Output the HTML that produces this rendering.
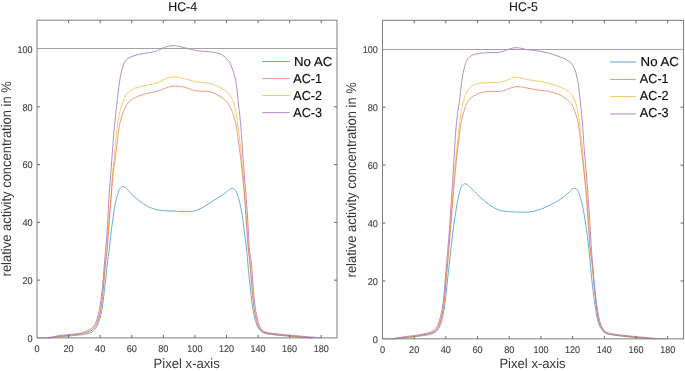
<!DOCTYPE html>
<html><head><meta charset="utf-8"><title>Profiles</title>
<style>
html,body{margin:0;padding:0;background:#fff;}
body{width:685px;height:371px;overflow:hidden;}
svg{display:block;}
text{font-family:"Liberation Sans",sans-serif;text-rendering:geometricPrecision;}
.tk{font-size:9.8px;fill:#3c3c3c;stroke:#3c3c3c;stroke-width:0.1px;}
.lb{font-size:13.4px;fill:#383838;}
.yl{font-size:13.9px;}
.ti{font-size:12.7px;fill:#151515;stroke:#151515;stroke-width:0.12px;}
.lg{font-size:13px;fill:#0c0c0c;stroke:#0c0c0c;stroke-width:0.16px;}
</style></head><body>
<svg width="685" height="371" viewBox="0 0 685 371">
<rect width="685" height="371" fill="#fff"/>
<line x1="37.00" y1="48.50" x2="337.00" y2="48.50" stroke="#a2a2a2" stroke-width="1"/>
<path d="M49.00 337.90 C50.83 337.72 56.77 337.11 60.00 336.80 C63.23 336.49 65.07 336.38 68.40 336.06 C71.73 335.74 77.35 335.19 80.00 334.90 C82.65 334.61 82.40 334.73 84.30 334.30 C86.20 333.87 89.38 333.48 91.40 332.30 C93.42 331.12 94.92 329.75 96.40 327.20 C97.88 324.65 99.27 320.70 100.30 317.00 C101.33 313.30 101.82 310.00 102.57 305.00 C103.32 300.00 104.03 293.67 104.80 287.00 C105.57 280.33 106.45 271.33 107.20 265.00 C107.95 258.67 108.70 254.00 109.30 249.00 C109.90 244.00 110.25 239.67 110.80 235.00 C111.35 230.33 111.89 226.00 112.60 221.00 C113.30 216.00 114.18 209.43 115.02 205.00 C115.86 200.57 116.75 197.17 117.62 194.40 C118.48 191.63 119.27 189.70 120.20 188.40 C121.13 187.10 122.17 186.60 123.20 186.60 C124.23 186.60 125.07 187.23 126.40 188.40 C127.73 189.57 129.10 191.57 131.20 193.60 C133.30 195.63 136.03 198.37 139.00 200.60 C141.97 202.83 145.67 205.40 149.00 207.00 C152.33 208.60 155.33 209.53 159.00 210.20 C162.67 210.87 166.67 210.77 171.00 211.00 C175.33 211.23 181.42 211.57 185.00 211.60 C188.58 211.63 190.20 211.57 192.50 211.20 C194.80 210.83 196.70 210.28 198.80 209.40 C200.90 208.52 203.00 207.12 205.10 205.90 C207.20 204.68 209.32 203.40 211.40 202.10 C213.48 200.80 215.52 199.45 217.60 198.10 C219.68 196.75 222.12 195.28 223.90 194.00 C225.68 192.72 227.15 191.25 228.30 190.40 C229.45 189.55 230.10 189.22 230.80 188.90 C231.50 188.58 231.92 188.47 232.50 188.50 C233.08 188.53 233.73 188.68 234.30 189.10 C234.87 189.52 235.36 190.02 235.90 191.00 C236.44 191.98 236.97 193.20 237.57 195.00 C238.17 196.80 238.84 198.98 239.52 201.80 C240.20 204.62 240.99 208.22 241.63 211.90 C242.28 215.58 242.78 219.38 243.38 223.90 C243.98 228.42 244.73 234.82 245.26 239.00 C245.78 243.18 246.07 244.67 246.53 249.00 C246.99 253.33 247.44 259.00 248.01 265.00 C248.59 271.00 249.28 278.33 250.00 285.00 C250.72 291.67 251.47 299.33 252.31 305.00 C253.14 310.67 253.98 315.17 255.00 319.00 C256.02 322.83 256.90 325.67 258.40 328.00 C259.90 330.33 261.07 331.83 264.00 333.00 C266.93 334.17 271.67 334.47 276.00 335.00 C280.33 335.53 285.33 335.80 290.00 336.20 C294.67 336.60 300.50 337.12 304.00 337.40 C307.50 337.68 309.67 337.78 311.00 337.86 C312.33 337.94 311.83 337.89 312.00 337.90" fill="none" stroke="#5ea8df" stroke-width="0.95" stroke-linejoin="round"/>
<path d="M48.50 337.90 C50.42 337.63 56.68 336.70 60.00 336.30 C63.32 335.90 65.07 335.87 68.40 335.50 C71.73 335.13 77.40 334.48 80.00 334.10 C82.60 333.72 82.17 333.75 84.00 333.20 C85.83 332.65 89.07 331.97 91.00 330.80 C92.93 329.63 94.23 328.50 95.60 326.20 C96.97 323.90 98.21 320.53 99.20 317.00 C100.19 313.47 100.83 310.00 101.55 305.00 C102.27 300.00 102.88 293.67 103.54 287.00 C104.20 280.33 104.87 271.33 105.50 265.00 C106.13 258.67 106.83 254.00 107.30 249.00 C107.77 244.00 107.88 240.67 108.30 235.00 C108.72 229.33 109.29 221.67 109.80 215.00 C110.31 208.33 110.90 201.00 111.38 195.00 C111.85 189.00 112.29 183.00 112.65 179.00 C113.01 175.00 113.09 174.67 113.55 171.00 C114.01 167.33 114.76 162.00 115.40 157.00 C116.03 152.00 116.74 146.00 117.37 141.00 C118.01 136.00 118.50 131.00 119.20 127.00 C119.90 123.00 120.75 119.83 121.55 117.00 C122.35 114.17 123.09 112.17 124.00 110.00 C124.91 107.83 125.67 105.77 127.00 104.00 C128.33 102.23 130.00 100.73 132.00 99.40 C134.00 98.07 136.50 97.00 139.00 96.00 C141.50 95.00 144.33 94.10 147.00 93.40 C149.67 92.70 152.67 92.37 155.00 91.80 C157.33 91.23 159.00 90.70 161.00 90.00 C163.00 89.30 165.17 88.23 167.00 87.60 C168.83 86.97 170.33 86.47 172.00 86.20 C173.67 85.93 175.17 85.90 177.00 86.00 C178.83 86.10 181.00 86.37 183.00 86.80 C185.00 87.23 186.83 87.93 189.00 88.60 C191.17 89.27 193.67 90.37 196.00 90.80 C198.33 91.23 200.83 91.07 203.00 91.20 C205.17 91.33 207.00 91.20 209.00 91.60 C211.00 92.00 213.00 92.70 215.00 93.60 C217.00 94.50 219.00 95.60 221.00 97.00 C223.00 98.40 225.70 100.67 227.00 102.00 C228.30 103.33 228.03 103.67 228.80 105.00 C229.57 106.33 230.78 108.17 231.60 110.00 C232.42 111.83 232.99 113.50 233.74 116.00 C234.49 118.50 235.38 121.17 236.11 125.00 C236.84 128.83 237.47 134.33 238.12 139.00 C238.76 143.67 239.42 148.33 240.00 153.00 C240.58 157.67 241.13 162.67 241.60 167.00 C242.07 171.33 242.34 174.33 242.81 179.00 C243.27 183.67 243.90 189.00 244.40 195.00 C244.90 201.00 245.33 208.33 245.80 215.00 C246.27 221.67 246.80 229.33 247.20 235.00 C247.60 240.67 247.73 244.00 248.20 249.00 C248.67 254.00 249.43 259.00 250.00 265.00 C250.57 271.00 251.01 278.33 251.60 285.00 C252.19 291.67 252.82 299.53 253.52 305.00 C254.22 310.47 254.89 314.03 255.80 317.80 C256.71 321.57 257.60 325.13 259.00 327.60 C260.40 330.07 261.37 331.43 264.20 332.60 C267.03 333.77 271.70 334.03 276.00 334.60 C280.30 335.17 285.33 335.57 290.00 336.00 C294.67 336.43 300.40 336.90 304.00 337.20 C307.60 337.50 310.10 337.68 311.60 337.80 C313.10 337.92 312.77 337.88 313.00 337.90" fill="none" stroke="#ee9876" stroke-width="0.95" stroke-linejoin="round"/>
<path d="M48.00 337.90 C50.00 337.60 56.60 336.53 60.00 336.10 C63.40 335.67 65.07 335.67 68.40 335.30 C71.73 334.93 77.40 334.28 80.00 333.90 C82.60 333.52 82.17 333.58 84.00 333.00 C85.83 332.42 89.10 331.60 91.00 330.40 C92.90 329.20 94.10 328.03 95.40 325.80 C96.70 323.57 97.84 320.47 98.80 317.00 C99.76 313.53 100.43 310.00 101.14 305.00 C101.86 300.00 102.46 293.67 103.10 287.00 C103.74 280.33 104.38 271.33 105.00 265.00 C105.62 258.67 106.33 254.00 106.80 249.00 C107.27 244.00 107.38 240.67 107.80 235.00 C108.22 229.33 108.77 221.67 109.30 215.00 C109.83 208.33 110.53 201.00 110.99 195.00 C111.44 189.00 111.71 183.33 112.04 179.00 C112.37 174.67 112.58 173.00 112.97 169.00 C113.37 165.00 113.90 160.00 114.40 155.00 C114.90 150.00 115.48 144.00 115.99 139.00 C116.51 134.00 116.88 129.33 117.49 125.00 C118.09 120.67 119.10 115.67 119.63 113.00 C120.15 110.33 120.03 111.00 120.65 109.00 C121.26 107.00 122.41 103.33 123.30 101.00 C124.20 98.67 124.72 96.83 126.00 95.00 C127.28 93.17 129.17 91.27 131.00 90.00 C132.83 88.73 134.67 88.13 137.00 87.40 C139.33 86.67 142.33 86.17 145.00 85.60 C147.67 85.03 150.67 84.60 153.00 84.00 C155.33 83.40 157.00 82.83 159.00 82.00 C161.00 81.17 163.17 79.77 165.00 79.00 C166.83 78.23 168.33 77.70 170.00 77.40 C171.67 77.10 173.17 77.13 175.00 77.20 C176.83 77.27 178.67 77.33 181.00 77.80 C183.33 78.27 186.33 79.30 189.00 80.00 C191.67 80.70 194.33 81.57 197.00 82.00 C199.67 82.43 202.33 82.20 205.00 82.60 C207.67 83.00 210.33 83.50 213.00 84.40 C215.67 85.30 218.67 86.73 221.00 88.00 C223.33 89.27 225.33 90.50 227.00 92.00 C228.67 93.50 229.83 95.00 231.00 97.00 C232.17 99.00 233.46 102.67 234.00 104.00 C234.54 105.33 233.87 103.50 234.24 105.00 C234.61 106.50 235.67 110.00 236.22 113.00 C236.77 116.00 237.01 119.00 237.53 123.00 C238.04 127.00 238.72 132.33 239.29 137.00 C239.87 141.67 240.48 146.00 241.00 151.00 C241.52 156.00 241.97 162.33 242.40 167.00 C242.83 171.67 243.20 174.33 243.60 179.00 C244.00 183.67 244.37 189.00 244.80 195.00 C245.23 201.00 245.73 208.33 246.20 215.00 C246.67 221.67 247.20 229.33 247.60 235.00 C248.00 240.67 248.13 244.00 248.60 249.00 C249.07 254.00 249.83 259.00 250.40 265.00 C250.97 271.00 251.41 278.33 252.00 285.00 C252.59 291.67 253.22 299.60 253.92 305.00 C254.62 310.40 255.29 313.67 256.20 317.40 C257.11 321.13 258.03 324.90 259.40 327.40 C260.77 329.90 261.63 331.23 264.40 332.40 C267.17 333.57 271.73 333.83 276.00 334.40 C280.27 334.97 285.33 335.37 290.00 335.80 C294.67 336.23 300.33 336.68 304.00 337.00 C307.67 337.32 310.33 337.57 312.00 337.72 C313.67 337.87 313.67 337.87 314.00 337.90" fill="none" stroke="#f6c962" stroke-width="0.95" stroke-linejoin="round" style="mix-blend-mode:multiply"/>
<path d="M37.00 337.90 C38.67 337.90 43.17 338.32 47.00 337.90 C50.83 337.48 56.43 335.94 60.00 335.40 C63.57 334.86 65.07 334.99 68.40 334.64 C71.73 334.29 77.45 333.72 80.00 333.30 C82.55 332.88 81.93 332.80 83.70 332.10 C85.47 331.40 88.78 330.32 90.60 329.10 C92.42 327.88 93.42 326.82 94.60 324.80 C95.78 322.78 96.78 320.30 97.70 317.00 C98.62 313.70 99.34 310.00 100.14 305.00 C100.94 300.00 101.81 293.67 102.50 287.00 C103.19 280.33 103.57 273.67 104.30 265.00 C105.03 256.33 106.28 243.33 106.90 235.00 C107.52 226.67 107.63 221.67 108.00 215.00 C108.37 208.33 108.70 201.00 109.10 195.00 C109.50 189.00 110.02 184.00 110.40 179.00 C110.78 174.00 111.03 170.00 111.40 165.00 C111.77 160.00 112.17 154.67 112.60 149.00 C113.03 143.33 113.53 136.33 114.00 131.00 C114.47 125.67 115.03 120.67 115.41 117.00 C115.79 113.33 115.87 112.67 116.29 109.00 C116.70 105.33 117.39 99.17 117.88 95.00 C118.37 90.83 118.77 87.22 119.23 84.00 C119.68 80.78 120.10 78.27 120.60 75.70 C121.11 73.13 121.63 70.78 122.25 68.60 C122.87 66.42 123.43 64.23 124.30 62.60 C125.17 60.97 126.03 59.90 127.50 58.80 C128.97 57.70 130.90 56.80 133.10 56.00 C135.30 55.20 138.18 54.53 140.70 54.00 C143.22 53.47 145.90 53.22 148.20 52.80 C150.50 52.38 152.82 51.92 154.50 51.50 C156.18 51.08 157.05 50.80 158.30 50.30 C159.55 49.80 160.75 49.07 162.00 48.50 C163.25 47.93 164.53 47.33 165.80 46.90 C167.07 46.47 168.45 46.12 169.60 45.90 C170.75 45.68 171.55 45.60 172.70 45.60 C173.85 45.60 175.07 45.68 176.50 45.90 C177.93 46.12 179.45 46.47 181.30 46.90 C183.15 47.33 185.50 47.98 187.60 48.50 C189.70 49.02 192.02 49.60 193.90 50.00 C195.78 50.40 197.02 50.67 198.90 50.90 C200.78 51.13 203.10 51.22 205.20 51.40 C207.30 51.58 209.62 51.75 211.50 52.00 C213.38 52.25 215.03 52.58 216.50 52.90 C217.97 53.22 219.05 53.33 220.30 53.90 C221.55 54.47 222.85 55.42 224.00 56.30 C225.15 57.18 226.18 58.10 227.20 59.20 C228.22 60.30 229.29 61.45 230.10 62.90 C230.91 64.35 231.43 66.18 232.05 67.90 C232.67 69.62 233.29 71.38 233.83 73.20 C234.36 75.02 234.86 77.00 235.26 78.80 C235.66 80.60 235.84 81.47 236.21 84.00 C236.57 86.53 237.05 90.50 237.44 94.00 C237.83 97.50 238.15 101.17 238.57 105.00 C238.99 108.83 239.50 112.67 239.94 117.00 C240.38 121.33 240.80 125.67 241.21 131.00 C241.62 136.33 242.00 143.33 242.40 149.00 C242.80 154.67 243.23 160.00 243.60 165.00 C243.97 170.00 244.20 174.00 244.60 179.00 C245.00 184.00 245.53 189.00 246.00 195.00 C246.47 201.00 246.97 208.33 247.40 215.00 C247.83 221.67 248.27 229.33 248.60 235.00 C248.93 240.67 248.90 244.00 249.40 249.00 C249.90 254.00 251.00 259.00 251.60 265.00 C252.20 271.00 252.45 278.33 253.00 285.00 C253.55 291.67 254.25 299.67 254.92 305.00 C255.59 310.33 256.15 313.33 257.00 317.00 C257.85 320.67 258.67 324.52 260.00 327.00 C261.33 329.48 262.33 330.77 265.00 331.90 C267.67 333.03 271.83 333.25 276.00 333.80 C280.17 334.35 285.33 334.77 290.00 335.20 C294.67 335.63 299.33 336.00 304.00 336.40 C308.67 336.80 315.13 337.35 318.00 337.60 C320.87 337.85 320.68 337.85 321.21 337.90" fill="none" stroke="#b486c6" stroke-width="0.95" stroke-linejoin="round"/>
<rect x="37.00" y="20.20" width="300.00" height="317.70" fill="none" stroke="#7e7e7e" stroke-width="1"/>
<path d="M68.58 337.90v-3.0M68.58 20.20v3.0M100.16 337.90v-3.0M100.16 20.20v3.0M131.74 337.90v-3.0M131.74 20.20v3.0M163.32 337.90v-3.0M163.32 20.20v3.0M194.89 337.90v-3.0M194.89 20.20v3.0M226.47 337.90v-3.0M226.47 20.20v3.0M258.05 337.90v-3.0M258.05 20.20v3.0M289.63 337.90v-3.0M289.63 20.20v3.0M321.21 337.90v-3.0M321.21 20.20v3.0M37.00 280.14h3.0M337.00 280.14h-3.0M37.00 222.37h3.0M337.00 222.37h-3.0M37.00 164.61h3.0M337.00 164.61h-3.0M37.00 106.85h3.0M337.00 106.85h-3.0" stroke="#686868" stroke-width="1" fill="none"/>
<text class="tk" x="37.00" y="351.60" text-anchor="middle" textLength="5.10" lengthAdjust="spacingAndGlyphs">0</text>
<text class="tk" x="68.58" y="351.60" text-anchor="middle" textLength="10.20" lengthAdjust="spacingAndGlyphs">20</text>
<text class="tk" x="100.16" y="351.60" text-anchor="middle" textLength="10.20" lengthAdjust="spacingAndGlyphs">40</text>
<text class="tk" x="131.74" y="351.60" text-anchor="middle" textLength="10.20" lengthAdjust="spacingAndGlyphs">60</text>
<text class="tk" x="163.32" y="351.60" text-anchor="middle" textLength="10.20" lengthAdjust="spacingAndGlyphs">80</text>
<text class="tk" x="194.89" y="351.60" text-anchor="middle" textLength="15.05" lengthAdjust="spacingAndGlyphs">100</text>
<text class="tk" x="226.47" y="351.60" text-anchor="middle" textLength="15.05" lengthAdjust="spacingAndGlyphs">120</text>
<text class="tk" x="258.05" y="351.60" text-anchor="middle" textLength="15.05" lengthAdjust="spacingAndGlyphs">140</text>
<text class="tk" x="289.63" y="351.60" text-anchor="middle" textLength="15.05" lengthAdjust="spacingAndGlyphs">160</text>
<text class="tk" x="321.21" y="351.60" text-anchor="middle" textLength="15.05" lengthAdjust="spacingAndGlyphs">180</text>
<text class="tk" x="32.60" y="341.55" text-anchor="end" textLength="5.10" lengthAdjust="spacingAndGlyphs">0</text>
<text class="tk" x="32.60" y="283.79" text-anchor="end" textLength="10.20" lengthAdjust="spacingAndGlyphs">20</text>
<text class="tk" x="32.60" y="226.02" text-anchor="end" textLength="10.20" lengthAdjust="spacingAndGlyphs">40</text>
<text class="tk" x="32.60" y="168.26" text-anchor="end" textLength="10.20" lengthAdjust="spacingAndGlyphs">60</text>
<text class="tk" x="32.60" y="110.50" text-anchor="end" textLength="10.20" lengthAdjust="spacingAndGlyphs">80</text>
<text class="tk" x="32.60" y="52.73" text-anchor="end" textLength="15.05" lengthAdjust="spacingAndGlyphs">100</text>
<text class="ti" x="182.70" y="10.50" text-anchor="middle" textLength="28.8" lengthAdjust="spacingAndGlyphs">HC-4</text>
<text class="lb" x="186.70" y="367.50" text-anchor="middle" textLength="66.2" lengthAdjust="spacingAndGlyphs">Pixel x-axis</text>
<text class="lb yl" transform="translate(11.20 276.40) rotate(-90)" textLength="195.2" lengthAdjust="spacingAndGlyphs">relative activity concentration in %</text>
<line x1="262.20" y1="61.50" x2="289.80" y2="61.50" stroke="#68abe0" stroke-width="1.1"/>
<text class="lg" x="294.00" y="66.10" textLength="38.3" lengthAdjust="spacingAndGlyphs">No AC</text>
<line x1="262.20" y1="78.50" x2="289.80" y2="78.50" stroke="#efa084" stroke-width="1.1"/>
<text class="lg" x="293.25" y="83.03" textLength="28.8" lengthAdjust="spacingAndGlyphs">AC-1</text>
<line x1="262.20" y1="95.50" x2="289.80" y2="95.50" stroke="#f7cb66" stroke-width="1.1"/>
<text class="lg" x="293.25" y="99.96" textLength="28.8" lengthAdjust="spacingAndGlyphs">AC-2</text>
<line x1="262.20" y1="112.60" x2="289.80" y2="112.60" stroke="#bf92d2" stroke-width="1.1"/>
<text class="lg" x="293.25" y="116.89" textLength="28.8" lengthAdjust="spacingAndGlyphs">AC-3</text>
<line x1="382.50" y1="49.50" x2="683.50" y2="49.50" stroke="#a2a2a2" stroke-width="1"/>
<path d="M394.00 338.85 C395.00 338.74 396.77 338.54 400.00 338.20 C403.23 337.86 409.40 337.27 413.40 336.80 C417.40 336.33 420.90 335.90 424.00 335.40 C427.10 334.90 429.73 334.70 432.00 333.80 C434.27 332.90 436.10 331.80 437.60 330.00 C439.10 328.20 439.97 326.17 441.00 323.00 C442.03 319.83 442.95 315.67 443.78 311.00 C444.61 306.33 445.36 300.33 446.00 295.00 C446.64 289.67 447.07 284.00 447.60 279.00 C448.13 274.00 448.65 270.00 449.20 265.00 C449.75 260.00 450.35 254.00 450.90 249.00 C451.45 244.00 451.92 239.67 452.50 235.00 C453.08 230.33 453.67 226.00 454.40 221.00 C455.13 216.00 456.15 209.33 456.88 205.00 C457.62 200.67 458.24 197.63 458.82 195.00 C459.39 192.37 459.85 190.72 460.31 189.20 C460.78 187.68 461.09 186.72 461.60 185.90 C462.11 185.08 462.80 184.64 463.40 184.30 C464.00 183.96 464.57 183.83 465.20 183.84 C465.83 183.85 466.40 183.80 467.20 184.36 C468.00 184.92 469.03 186.24 470.00 187.20 C470.97 188.16 471.17 188.30 473.00 190.10 C474.83 191.90 478.00 195.35 481.00 198.00 C484.00 200.65 487.67 203.90 491.00 206.00 C494.33 208.10 497.67 209.63 501.00 210.60 C504.33 211.57 507.67 211.53 511.00 211.80 C514.33 212.07 518.67 212.13 521.00 212.20 C523.33 212.27 523.28 212.32 525.00 212.24 C526.72 212.16 529.20 212.02 531.30 211.70 C533.40 211.38 535.52 210.92 537.60 210.30 C539.68 209.68 541.72 208.87 543.80 208.00 C545.88 207.13 548.00 206.15 550.10 205.10 C552.20 204.05 554.30 202.97 556.40 201.70 C558.50 200.43 560.82 198.90 562.70 197.50 C564.58 196.10 566.38 194.43 567.70 193.30 C569.02 192.17 569.78 191.40 570.60 190.70 C571.42 190.00 572.03 189.48 572.60 189.10 C573.17 188.72 573.57 188.53 574.00 188.40 C574.43 188.27 574.80 188.23 575.20 188.30 C575.60 188.37 576.03 188.52 576.40 188.80 C576.77 189.08 577.08 189.52 577.40 190.00 C577.72 190.48 577.99 191.00 578.30 191.70 C578.61 192.40 578.86 193.02 579.27 194.20 C579.69 195.38 580.25 196.88 580.79 198.80 C581.33 200.72 581.97 203.10 582.53 205.70 C583.09 208.30 583.63 211.35 584.16 214.40 C584.68 217.45 585.12 220.40 585.65 224.00 C586.18 227.60 586.79 231.83 587.33 236.00 C587.87 240.17 588.38 244.17 588.89 249.00 C589.40 253.83 589.82 259.00 590.40 265.00 C590.98 271.00 591.63 278.33 592.40 285.00 C593.17 291.67 594.13 299.17 595.00 305.00 C595.86 310.83 596.60 316.07 597.60 320.00 C598.60 323.93 599.60 326.37 601.00 328.60 C602.40 330.83 603.50 332.27 606.00 333.40 C608.50 334.53 612.33 334.83 616.00 335.40 C619.67 335.97 623.67 336.37 628.00 336.80 C632.33 337.23 638.50 337.71 642.00 338.00 C645.50 338.29 647.00 338.38 649.00 338.52 C651.00 338.66 653.17 338.80 654.00 338.85" fill="none" stroke="#5ea8df" stroke-width="0.95" stroke-linejoin="round"/>
<path d="M393.50 338.85 C394.58 338.71 396.68 338.39 400.00 338.00 C403.32 337.61 409.40 337.03 413.40 336.50 C417.40 335.97 420.90 335.38 424.00 334.80 C427.10 334.22 429.77 334.00 432.00 333.00 C434.23 332.00 435.99 330.70 437.40 328.80 C438.81 326.90 439.51 324.70 440.47 321.60 C441.43 318.50 442.41 314.63 443.15 310.20 C443.89 305.77 444.42 299.87 444.91 295.00 C445.40 290.13 445.65 286.00 446.10 281.00 C446.55 276.00 446.93 272.67 447.60 265.00 C448.27 257.33 449.42 243.33 450.10 235.00 C450.78 226.67 451.17 221.67 451.70 215.00 C452.23 208.33 452.81 201.00 453.29 195.00 C453.78 189.00 454.30 182.67 454.62 179.00 C454.93 175.33 454.85 176.33 455.18 173.00 C455.51 169.67 456.07 164.00 456.60 159.00 C457.14 154.00 457.78 148.00 458.37 143.00 C458.97 138.00 459.56 133.00 460.15 129.00 C460.73 125.00 461.23 122.00 461.87 119.00 C462.51 116.00 463.13 113.67 463.98 111.00 C464.84 108.33 465.83 105.17 467.00 103.00 C468.17 100.83 469.50 99.40 471.00 98.00 C472.50 96.60 474.00 95.57 476.00 94.60 C478.00 93.63 480.50 92.73 483.00 92.20 C485.50 91.67 488.33 91.53 491.00 91.40 C493.67 91.27 496.83 91.53 499.00 91.40 C501.17 91.27 502.33 91.07 504.00 90.60 C505.67 90.13 507.33 89.20 509.00 88.60 C510.67 88.00 512.50 87.33 514.00 87.00 C515.50 86.67 516.50 86.57 518.00 86.60 C519.50 86.63 521.17 86.90 523.00 87.20 C524.83 87.50 526.67 87.97 529.00 88.40 C531.33 88.83 534.33 89.40 537.00 89.80 C539.67 90.20 542.33 90.37 545.00 90.80 C547.67 91.23 550.50 91.70 553.00 92.40 C555.50 93.10 557.83 93.97 560.00 95.00 C562.17 96.03 564.17 97.20 566.00 98.60 C567.83 100.00 570.00 102.33 571.00 103.40 C572.00 104.47 571.43 103.90 572.00 105.00 C572.57 106.10 573.67 108.17 574.40 110.00 C575.13 111.83 575.66 113.50 576.35 116.00 C577.05 118.50 577.91 121.17 578.56 125.00 C579.21 128.83 579.72 134.33 580.26 139.00 C580.80 143.67 581.28 148.33 581.81 153.00 C582.33 157.67 582.93 162.67 583.40 167.00 C583.87 171.33 584.14 174.33 584.61 179.00 C585.07 183.67 585.70 189.00 586.20 195.00 C586.70 201.00 587.13 208.33 587.60 215.00 C588.07 221.67 588.60 229.33 589.00 235.00 C589.40 240.67 589.47 244.00 590.00 249.00 C590.53 254.00 591.53 259.00 592.20 265.00 C592.87 271.00 593.34 278.33 594.00 285.00 C594.66 291.67 595.44 299.23 596.18 305.00 C596.91 310.77 597.46 315.70 598.40 319.60 C599.34 323.50 600.47 326.17 601.80 328.40 C603.13 330.63 604.03 331.88 606.40 333.00 C608.77 334.12 612.40 334.52 616.00 335.10 C619.60 335.68 623.67 336.05 628.00 336.50 C632.33 336.95 638.33 337.47 642.00 337.80 C645.67 338.13 647.67 338.29 650.00 338.46 C652.33 338.64 655.00 338.79 656.00 338.85" fill="none" stroke="#ee9876" stroke-width="0.95" stroke-linejoin="round"/>
<path d="M393.00 338.85 C394.17 338.68 396.60 338.23 400.00 337.80 C403.40 337.38 409.40 336.83 413.40 336.30 C417.40 335.77 420.90 335.22 424.00 334.60 C427.10 333.98 429.80 333.67 432.00 332.60 C434.20 331.53 435.83 330.13 437.20 328.20 C438.57 326.27 439.26 324.10 440.19 321.00 C441.12 317.90 442.06 313.93 442.78 309.60 C443.50 305.27 444.01 299.77 444.51 295.00 C445.01 290.23 445.35 286.00 445.80 281.00 C446.25 276.00 446.57 272.67 447.20 265.00 C447.83 257.33 448.93 243.33 449.60 235.00 C450.27 226.67 450.67 221.67 451.20 215.00 C451.73 208.33 452.35 201.00 452.79 195.00 C453.23 189.00 453.51 183.33 453.84 179.00 C454.17 174.67 454.38 173.00 454.77 169.00 C455.17 165.00 455.70 160.00 456.20 155.00 C456.70 150.00 457.27 144.00 457.80 139.00 C458.32 134.00 458.81 129.33 459.35 125.00 C459.89 120.67 460.65 115.67 461.05 113.00 C461.44 110.33 461.22 111.33 461.72 109.00 C462.23 106.67 463.25 101.83 464.07 99.00 C464.88 96.17 465.61 93.93 466.60 92.00 C467.59 90.07 468.60 88.67 470.00 87.40 C471.40 86.13 473.00 85.13 475.00 84.40 C477.00 83.67 479.33 83.30 482.00 83.00 C484.67 82.70 488.17 82.70 491.00 82.60 C493.83 82.50 496.83 82.60 499.00 82.40 C501.17 82.20 502.33 81.90 504.00 81.40 C505.67 80.90 507.33 80.00 509.00 79.40 C510.67 78.80 512.60 78.13 514.00 77.80 C515.40 77.47 516.07 77.33 517.40 77.40 C518.73 77.47 520.07 77.80 522.00 78.20 C523.93 78.60 526.50 79.33 529.00 79.80 C531.50 80.27 534.33 80.57 537.00 81.00 C539.67 81.43 542.33 81.83 545.00 82.40 C547.67 82.97 550.33 83.57 553.00 84.40 C555.67 85.23 558.67 86.37 561.00 87.40 C563.33 88.43 565.17 89.33 567.00 90.60 C568.83 91.87 570.67 93.27 572.00 95.00 C573.33 96.73 574.29 99.33 575.00 101.00 C575.71 102.67 575.73 103.00 576.26 105.00 C576.78 107.00 577.58 110.00 578.15 113.00 C578.71 116.00 579.13 119.00 579.65 123.00 C580.16 127.00 580.73 132.33 581.22 137.00 C581.72 141.67 582.14 146.00 582.60 151.00 C583.06 156.00 583.57 162.33 584.00 167.00 C584.43 171.67 584.73 174.33 585.20 179.00 C585.67 183.67 586.30 189.00 586.80 195.00 C587.30 201.00 587.73 208.33 588.20 215.00 C588.67 221.67 589.23 229.33 589.60 235.00 C589.97 240.67 589.93 244.00 590.40 249.00 C590.87 254.00 591.77 259.00 592.40 265.00 C593.03 271.00 593.54 278.33 594.20 285.00 C594.86 291.67 595.64 299.27 596.37 305.00 C597.10 310.73 597.66 315.53 598.60 319.40 C599.54 323.27 600.67 325.97 602.00 328.20 C603.33 330.43 604.27 331.68 606.60 332.80 C608.93 333.92 612.43 334.32 616.00 334.90 C619.57 335.48 623.67 335.85 628.00 336.30 C632.33 336.75 638.27 337.25 642.00 337.60 C645.73 337.95 647.90 338.19 650.40 338.40 C652.90 338.61 655.90 338.78 657.00 338.85" fill="none" stroke="#f6c962" stroke-width="0.95" stroke-linejoin="round" style="mix-blend-mode:multiply"/>
<path d="M382.50 338.85 C384.08 338.85 390.35 338.88 392.00 338.85 C393.65 338.83 391.07 338.93 392.40 338.70 C393.73 338.47 397.40 337.92 400.00 337.50 C402.60 337.08 405.77 336.50 408.00 336.20 C410.23 335.90 410.78 336.08 413.40 335.70 C416.02 335.32 420.65 334.57 423.70 333.90 C426.75 333.23 429.53 332.82 431.70 331.70 C433.87 330.58 435.40 329.15 436.70 327.20 C438.00 325.25 438.59 323.03 439.50 320.00 C440.41 316.97 441.39 313.17 442.15 309.00 C442.90 304.83 443.51 299.67 444.01 295.00 C444.50 290.33 444.68 286.00 445.10 281.00 C445.52 276.00 445.85 272.67 446.50 265.00 C447.15 257.33 448.35 243.33 449.00 235.00 C449.65 226.67 449.95 221.67 450.40 215.00 C450.85 208.33 451.30 201.00 451.70 195.00 C452.10 189.00 452.47 184.00 452.80 179.00 C453.13 174.00 453.40 170.00 453.70 165.00 C454.00 160.00 454.26 154.67 454.60 149.00 C454.94 143.33 455.32 136.33 455.75 131.00 C456.18 125.67 456.75 120.67 457.16 117.00 C457.58 113.33 457.73 112.67 458.24 109.00 C458.75 105.33 459.62 99.67 460.21 95.00 C460.80 90.33 461.17 85.27 461.79 81.00 C462.41 76.73 463.17 72.63 463.94 69.40 C464.71 66.17 465.39 63.73 466.40 61.60 C467.41 59.47 468.43 57.87 470.00 56.60 C471.57 55.33 473.57 54.62 475.80 54.00 C478.03 53.38 480.87 53.13 483.40 52.90 C485.93 52.67 488.57 52.68 491.00 52.60 C493.43 52.52 496.00 52.60 498.00 52.40 C500.00 52.20 501.33 51.90 503.00 51.40 C504.67 50.90 506.33 49.97 508.00 49.40 C509.67 48.83 511.50 48.28 513.00 48.00 C514.50 47.72 515.50 47.63 517.00 47.70 C518.50 47.77 520.33 48.08 522.00 48.40 C523.67 48.72 524.83 49.25 527.00 49.60 C529.17 49.95 532.33 50.13 535.00 50.50 C537.67 50.87 540.33 51.25 543.00 51.80 C545.67 52.35 548.33 53.00 551.00 53.80 C553.67 54.60 556.50 55.67 559.00 56.60 C561.50 57.53 564.00 58.33 566.00 59.40 C568.00 60.47 569.57 61.40 571.00 63.00 C572.43 64.60 573.61 66.67 574.60 69.00 C575.59 71.33 576.26 74.00 576.95 77.00 C577.64 80.00 578.24 83.33 578.75 87.00 C579.25 90.67 579.60 95.33 579.99 99.00 C580.38 102.67 580.76 106.00 581.09 109.00 C581.41 112.00 581.59 113.33 581.92 117.00 C582.24 120.67 582.65 125.67 583.03 131.00 C583.41 136.33 583.77 143.33 584.20 149.00 C584.63 154.67 585.17 160.00 585.60 165.00 C586.03 170.00 586.40 174.00 586.80 179.00 C587.20 184.00 587.57 189.00 588.00 195.00 C588.43 201.00 588.97 208.33 589.40 215.00 C589.83 221.67 590.27 229.33 590.60 235.00 C590.93 240.67 591.05 244.00 591.40 249.00 C591.75 254.00 592.20 259.00 592.70 265.00 C593.20 271.00 593.73 278.33 594.40 285.00 C595.07 291.67 595.90 299.33 596.70 305.00 C597.50 310.67 598.25 315.17 599.20 319.00 C600.15 322.83 601.10 325.75 602.40 328.00 C603.70 330.25 604.73 331.43 607.00 332.50 C609.27 333.57 612.50 333.85 616.00 334.40 C619.50 334.95 623.67 335.33 628.00 335.80 C632.33 336.27 637.17 336.76 642.00 337.20 C646.83 337.64 652.72 338.19 657.00 338.46 C661.28 338.74 665.88 338.79 667.66 338.85" fill="none" stroke="#b486c6" stroke-width="0.95" stroke-linejoin="round"/>
<rect x="382.50" y="20.35" width="301.00" height="318.50" fill="none" stroke="#7e7e7e" stroke-width="1"/>
<path d="M414.18 338.85v-3.0M414.18 20.35v3.0M445.87 338.85v-3.0M445.87 20.35v3.0M477.55 338.85v-3.0M477.55 20.35v3.0M509.24 338.85v-3.0M509.24 20.35v3.0M540.92 338.85v-3.0M540.92 20.35v3.0M572.61 338.85v-3.0M572.61 20.35v3.0M604.29 338.85v-3.0M604.29 20.35v3.0M635.97 338.85v-3.0M635.97 20.35v3.0M667.66 338.85v-3.0M667.66 20.35v3.0M382.50 280.94h3.0M683.50 280.94h-3.0M382.50 223.03h3.0M683.50 223.03h-3.0M382.50 165.12h3.0M683.50 165.12h-3.0M382.50 107.21h3.0M683.50 107.21h-3.0" stroke="#686868" stroke-width="1" fill="none"/>
<text class="tk" x="382.50" y="352.60" text-anchor="middle" textLength="5.10" lengthAdjust="spacingAndGlyphs">0</text>
<text class="tk" x="414.18" y="352.60" text-anchor="middle" textLength="10.20" lengthAdjust="spacingAndGlyphs">20</text>
<text class="tk" x="445.87" y="352.60" text-anchor="middle" textLength="10.20" lengthAdjust="spacingAndGlyphs">40</text>
<text class="tk" x="477.55" y="352.60" text-anchor="middle" textLength="10.20" lengthAdjust="spacingAndGlyphs">60</text>
<text class="tk" x="509.24" y="352.60" text-anchor="middle" textLength="10.20" lengthAdjust="spacingAndGlyphs">80</text>
<text class="tk" x="540.92" y="352.60" text-anchor="middle" textLength="15.05" lengthAdjust="spacingAndGlyphs">100</text>
<text class="tk" x="572.61" y="352.60" text-anchor="middle" textLength="15.05" lengthAdjust="spacingAndGlyphs">120</text>
<text class="tk" x="604.29" y="352.60" text-anchor="middle" textLength="15.05" lengthAdjust="spacingAndGlyphs">140</text>
<text class="tk" x="635.97" y="352.60" text-anchor="middle" textLength="15.05" lengthAdjust="spacingAndGlyphs">160</text>
<text class="tk" x="667.66" y="352.60" text-anchor="middle" textLength="15.05" lengthAdjust="spacingAndGlyphs">180</text>
<text class="tk" x="377.90" y="342.50" text-anchor="end" textLength="5.10" lengthAdjust="spacingAndGlyphs">0</text>
<text class="tk" x="377.90" y="284.59" text-anchor="end" textLength="10.20" lengthAdjust="spacingAndGlyphs">20</text>
<text class="tk" x="377.90" y="226.68" text-anchor="end" textLength="10.20" lengthAdjust="spacingAndGlyphs">40</text>
<text class="tk" x="377.90" y="168.77" text-anchor="end" textLength="10.20" lengthAdjust="spacingAndGlyphs">60</text>
<text class="tk" x="377.90" y="110.86" text-anchor="end" textLength="10.20" lengthAdjust="spacingAndGlyphs">80</text>
<text class="tk" x="377.90" y="52.95" text-anchor="end" textLength="15.05" lengthAdjust="spacingAndGlyphs">100</text>
<text class="ti" x="523.50" y="10.50" text-anchor="middle" textLength="28.8" lengthAdjust="spacingAndGlyphs">HC-5</text>
<text class="lb" x="532.50" y="368.40" text-anchor="middle" textLength="66.2" lengthAdjust="spacingAndGlyphs">Pixel x-axis</text>
<text class="lb yl" transform="translate(356.10 277.40) rotate(-90)" textLength="195.2" lengthAdjust="spacingAndGlyphs">relative activity concentration in %</text>
<line x1="610.10" y1="62.00" x2="636.00" y2="62.00" stroke="#68abe0" stroke-width="1.1"/>
<text class="lg" x="640.60" y="66.20" textLength="38.3" lengthAdjust="spacingAndGlyphs">No AC</text>
<line x1="610.10" y1="79.50" x2="636.00" y2="79.50" stroke="#efa084" stroke-width="1.1"/>
<text class="lg" x="639.85" y="83.13" textLength="28.8" lengthAdjust="spacingAndGlyphs">AC-1</text>
<line x1="610.10" y1="96.50" x2="636.00" y2="96.50" stroke="#f7cb66" stroke-width="1.1"/>
<text class="lg" x="639.85" y="100.06" textLength="28.8" lengthAdjust="spacingAndGlyphs">AC-2</text>
<line x1="610.10" y1="114.00" x2="636.00" y2="114.00" stroke="#bf92d2" stroke-width="1.1"/>
<text class="lg" x="639.85" y="116.99" textLength="28.8" lengthAdjust="spacingAndGlyphs">AC-3</text>
</svg>
</body></html>
